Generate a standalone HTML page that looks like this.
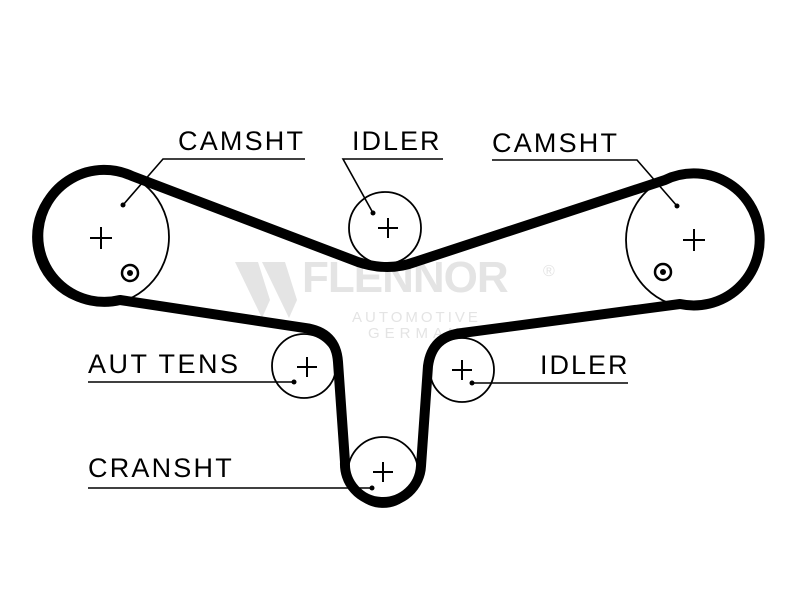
<!DOCTYPE html>
<html><head><style>html,body{margin:0;padding:0;background:#fff}</style></head><body>
<svg width="800" height="600" viewBox="0 0 800 600" xmlns="http://www.w3.org/2000/svg" font-family="Liberation Sans, sans-serif">
<rect width="800" height="600" fill="#fff"/>
<g fill="#e4e4e4">
<polygon points="235,262 258,262 270,300 262,318"/>
<polygon points="262,262 285,262 297,300 289,318"/>
<text x="302" y="292" font-size="44" font-weight="bold" letter-spacing="-1">FLENNOR</text>
<text x="543" y="276" font-size="16">®</text>
<text x="352" y="322" font-size="15" letter-spacing="3">AUTOMOTIVE</text>
<text x="368" y="338" font-size="15" letter-spacing="5">GERMANY</text>
</g>
<g fill="none" stroke="#000" stroke-width="1.8">
<circle cx="101" cy="237" r="68"/>
<circle cx="694" cy="240" r="68"/>
<circle cx="385" cy="228" r="36"/>
<circle cx="304" cy="366" r="32"/>
<circle cx="462" cy="370" r="32"/>
<circle cx="383" cy="472" r="35"/>
<circle cx="130" cy="273" r="8" stroke-width="2.5"/>
<circle cx="663" cy="272" r="8" stroke-width="2.5"/>
</g>
<path d="M132,176 A66 66 0 1 0 120,300 L305,328 Q336,332 338,362 L345,462 A38 38 0 0 0 421,466 L428,366 Q432,336 462,333 L680,304 A66 66 0 1 0 665,180 L415,262 Q388,272 358,262 Z" fill="none" stroke="#000" stroke-width="10" stroke-linejoin="round"/>
<g stroke="#000" stroke-width="2">
<path d="M90,238h22M101,227v22"/>
<path d="M683,240h22M694,229v22"/>
<path d="M378,228h20M388,218v20"/>
<path d="M297,367h20M307,357v20"/>
<path d="M452,370h20M462,360v20"/>
<path d="M373,472h20M383,462v20"/>
</g>
<g fill="#000">
<circle cx="130" cy="273" r="3"/><circle cx="663" cy="272" r="3"/>
<circle cx="123" cy="205" r="2.5"/><circle cx="373" cy="213" r="2.5"/><circle cx="677" cy="206" r="2.5"/>
<circle cx="294" cy="382" r="2.5"/><circle cx="472" cy="383" r="2.5"/><circle cx="372" cy="488" r="2.5"/>
</g>
<g stroke="#000" stroke-width="1.6" fill="none">
<path d="M305,159H163L123,205"/>
<path d="M443,159H343L373,213"/>
<path d="M492,160H637L677,206"/>
<path d="M88,382H294"/>
<path d="M628,383H472"/>
<path d="M88,488H372"/>
</g>
<g font-size="27" fill="#000">
<text x="178" y="150" letter-spacing="2.2">CAMSHT</text>
<text x="352" y="150" letter-spacing="2">IDLER</text>
<text x="492" y="152" letter-spacing="2.2">CAMSHT</text>
<text x="88" y="373" letter-spacing="2.5">AUT TENS</text>
<text x="540" y="374" letter-spacing="2">IDLER</text>
<text x="88" y="477" letter-spacing="2.2">CRANSHT</text>
</g>
</svg>
</body></html>
